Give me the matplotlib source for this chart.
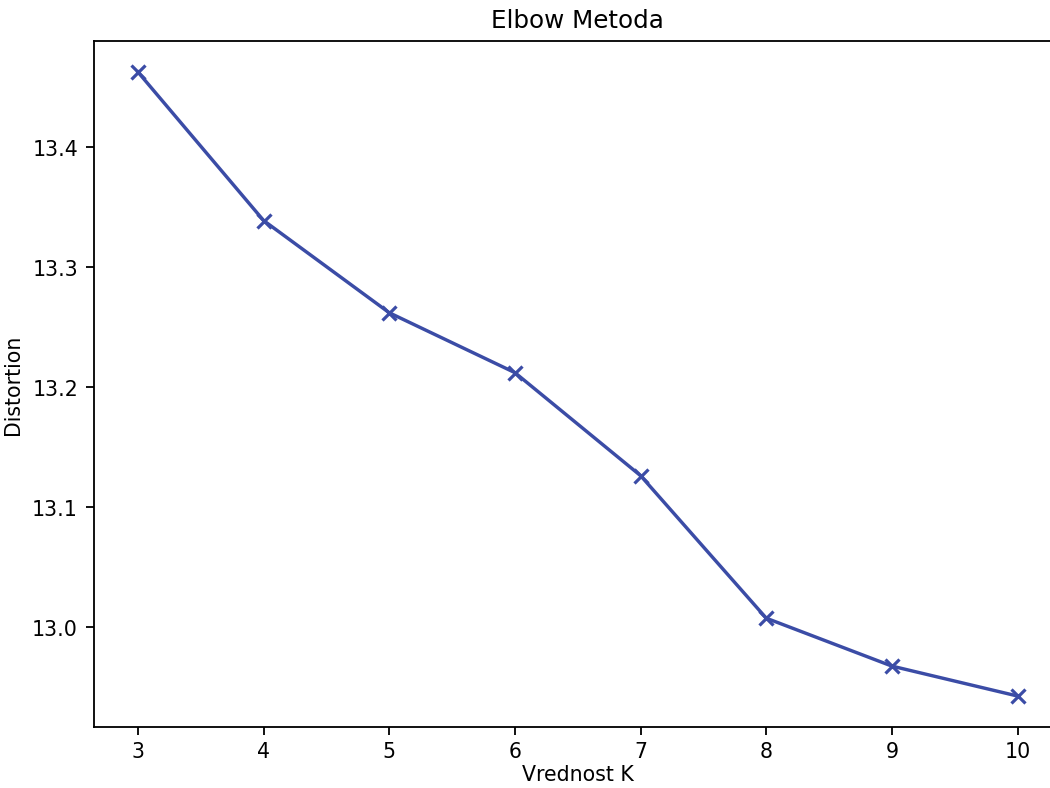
import numpy as np
import matplotlib
matplotlib.use('Agg')
import matplotlib.pyplot as plt

# Elbow metoda - vrednosti distortion za K = 3..10
k_values = [3, 4, 5, 6, 7, 8, 9, 10]
distortions = [13.463, 13.339, 13.262, 13.212, 13.126, 13.007, 12.967, 12.942]

plt.rcParams['font.size'] = 9

fig = plt.figure(figsize=(1050/164, 789/164), dpi=164)
ax = fig.add_subplot(111)
# desni rob osi je odrezan na originalni sliki
fig.subplots_adjust(left=0.0895, right=1.011, top=0.947, bottom=0.077)
ax.spines['right'].set_visible(False)

ax.plot(k_values, distortions, 'x-', color='#3b4ca6', linewidth=1.5,
        markersize=6, markeredgewidth=1.4)

ax.tick_params(axis='x', pad=2.5)
ax.set_xlabel('Vrednost K', labelpad=1.5)
ax.set_ylabel('Distortion')
ax.set_title('Elbow Metoda')

plt.savefig('out.png', dpi=164)
